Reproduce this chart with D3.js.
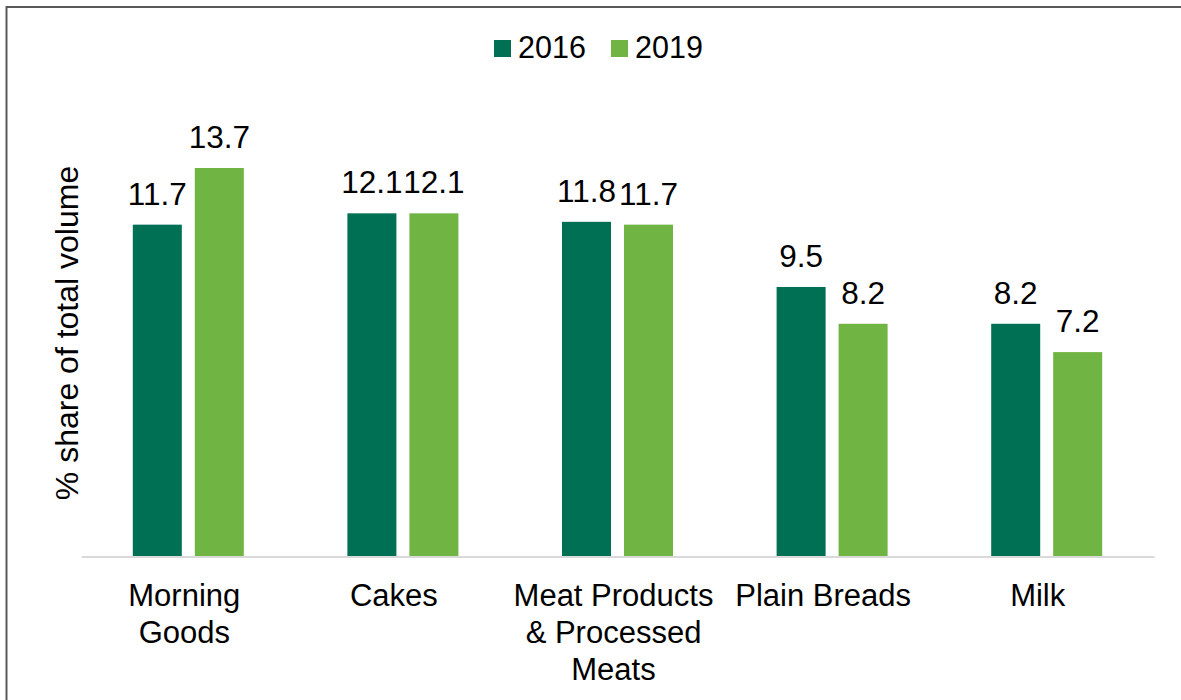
<!DOCTYPE html>
<html><head><meta charset="utf-8">
<script src="https://cdn.jsdelivr.net/npm/d3@7"></script>
<style>body{margin:0;background:#fff}svg{display:block}text{font-family:"Liberation Sans",Arial,sans-serif;fill:#000}</style>
</head><body>
<svg id="c" width="1181" height="700"></svg>
<script>
const categories = [["Morning","Goods"],["Cakes"],["Meat Products","& Processed","Meats"],["Plain Breads"],["Milk"]];
const seriesNames = ["2016","2019"];
const values2016 = [11.7, 12.1, 11.8, 9.5, 8.2];
const values2019 = [13.7, 12.1, 11.7, 8.2, 7.2];
const colors = ["#007054","#70B443"];
const yLabel = "% share of total volume";

const svg = d3.select("#c");
svg.append("rect").attr("x",6.5).attr("y",7).attr("width",1300).attr("height",900)
  .attr("fill","none").attr("stroke","#595959").attr("stroke-width",2);

const keys = categories.map(c=>c.join(" "));
const x0 = d3.scaleBand().domain(keys).range([81,1154]).padding(0);
const step = 62, pi = 13/62;
const po = (x0.bandwidth()/step - 2 + pi)/2;
const x1 = d3.scaleBand().domain(seriesNames).range([0,x0.bandwidth()]).paddingInner(pi).paddingOuter(po);
const y = d3.scaleLinear().domain([0,14]).range([556, 556-14*28.32]);

const data = keys.map((k,i)=>({k, vals:[values2016[i], values2019[i]]}));
const g = svg.append("g");
const groups = g.selectAll("g.grp").data(data).join("g").attr("transform",d=>`translate(${x0(d.k)},0)`);
groups.selectAll("rect").data(d=>d.vals.map((v,j)=>({v,s:seriesNames[j],j})))
  .join("rect").attr("x",d=>x1(d.s)).attr("width",x1.bandwidth())
  .attr("y",d=>y(d.v)).attr("height",d=>y(0)-y(d.v)).attr("fill",d=>colors[d.j]);
groups.selectAll("text.val").data(d=>d.vals.map((v,j)=>({v,s:seriesNames[j]})))
  .join("text").attr("class","val").attr("x",d=>x1(d.s)+x1.bandwidth()/2).attr("y",d=>y(d.v)-20)
  .attr("text-anchor","middle").attr("font-size",31.5).text(d=>d3.format(".1f")(d.v));

// baseline axis
const xAxis = d3.axisBottom(x0).tickSize(0).tickFormat("");
const ax = svg.append("g").attr("transform","translate(0,556.5)").call(xAxis);
ax.select(".domain").attr("stroke","#d9d9d9").attr("stroke-width",2);
// category labels
svg.append("g").selectAll("text").data(categories).join("text")
  .attr("text-anchor","middle").attr("font-size",31)
  .attr("transform",(d,i)=>`translate(${x0(keys[i])+x0.bandwidth()/2 + (d.length>1?-4:-9)},606)`)
  .each(function(d){
    d3.select(this).selectAll("tspan").data(d).join("tspan").attr("x",0).attr("dy",(t,i)=>i?37:0).text(t=>t);
  });

// y label
svg.append("text").attr("transform","translate(78,333) rotate(-90)").attr("text-anchor","middle")
  .attr("font-size",32).text(yLabel);

// legend
const leg = svg.append("g");
const legX = [494, 611];
seriesNames.forEach((s,i)=>{
  leg.append("rect").attr("x",legX[i]).attr("y",40).attr("width",17).attr("height",17).attr("fill",colors[i]);
  leg.append("text").attr("x",legX[i]+24).attr("y",57.5).attr("font-size",30.5).text(s);
});
</script></body></html>
